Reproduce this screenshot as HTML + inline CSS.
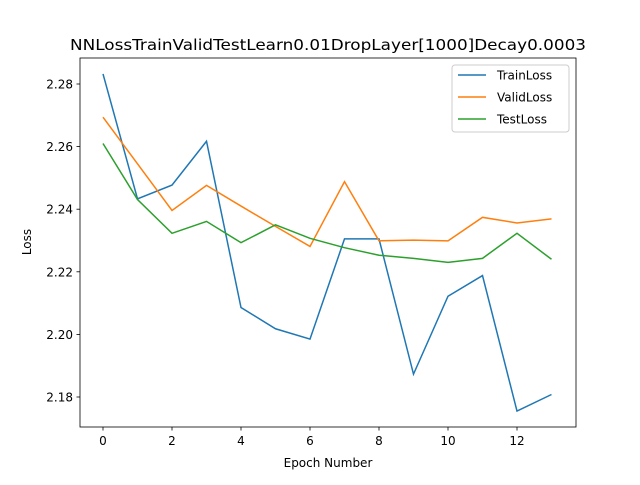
<!DOCTYPE html>
<html><head><meta charset="utf-8"><style>
body{margin:0;background:#fff;}
svg text{font-family:"DejaVu Sans","Liberation Sans",sans-serif;fill:#000;}
</style></head><body>
<svg id="chart" width="640" height="480" xmlns="http://www.w3.org/2000/svg">
<rect width="640" height="480" fill="#fff"/>
<text x="328" y="50" font-size="15.5" text-anchor="middle" textLength="516" lengthAdjust="spacingAndGlyphs">NNLossTrainValidTestLearn0.01DropLayer[1000]Decay0.0003</text>
<g id="plot"></g>
<rect x="80" y="58" width="496" height="369" fill="none" stroke="#000" stroke-width="0.8"/>
<text x="328" y="467" font-size="12" text-anchor="middle">Epoch Number</text>
<text x="31" y="242" font-size="12" text-anchor="middle" transform="rotate(-90 31 242)">Loss</text>
<g>
<rect x="452" y="65" width="117" height="67" fill="#fff" stroke="#ccc" rx="3"/>
</g>
</svg>
<script>
const epochs=[0,1,2,3,4,5,6,7,8,9,10,11,12,13];
const trainLoss=[2.2832,2.2433,2.2477,2.2617,2.2086,2.2018,2.1985,2.2305,2.2305,2.1873,2.2122,2.2188,2.1755,2.1808];
const validLoss=[2.2694,2.2545,2.2396,2.2476,2.2410,2.2345,2.2281,2.2488,2.2299,2.2301,2.2299,2.2374,2.2356,2.2369];
const testLoss=[2.2610,2.2431,2.2323,2.2361,2.2293,2.2350,2.2307,2.2277,2.2253,2.2243,2.2230,2.2243,2.2323,2.2240];
const xTicks=[0,2,4,6,8,10,12];
const yTicks=[2.18,2.20,2.22,2.24,2.26,2.28];
const seriesNames=["TrainLoss","ValidLoss","TestLoss"];
const colors=["#1f77b4","#ff7f0e","#2ca02c"];
const NS="http://www.w3.org/2000/svg";
const xs=v=>103+v*(517-103)/12;
const ys=v=>397-(v-2.18)*(397-84)/0.10;
const svg=document.getElementById('chart');
const g=document.getElementById('plot');
function mk(t,a,p){const e=document.createElementNS(NS,t);for(const k in a)e.setAttribute(k,a[k]);(p||svg).appendChild(e);return e;}
xTicks.forEach(t=>{
 const l=mk('line',{x1:xs(t),x2:xs(t),y1:427,y2:430.5,stroke:'#000','stroke-width':0.8});
 
 
 const tx=mk('text',{x:xs(t),y:445,'font-size':12,'text-anchor':'middle'});tx.textContent=t;
 
 
});
yTicks.forEach(t=>{
 const l=mk('line',{x1:76.5,x2:80,y1:ys(t),y2:ys(t),stroke:'#000','stroke-width':0.8});
 
 
 const tx=mk('text',{x:73,y:ys(t)+4.5,'font-size':12,'text-anchor':'end'});tx.textContent=t.toFixed(2);
 
 
});
[trainLoss,validLoss,testLoss].forEach((s,i)=>{
 const p=mk('polyline',{points:s.map((v,j)=>xs(epochs[j])+','+ys(v)).join(' '),fill:'none',stroke:colors[i],'stroke-width':1.5},g);
 
 
 const y=75+i*22;
 const l=mk('line',{x1:458,x2:486,y1:y,y2:y,stroke:colors[i],'stroke-width':1.5});
 
 
 const tx=mk('text',{x:497,y:y+4.5,'font-size':12});tx.textContent=seriesNames[i];
 
 
});
</script>
</body></html>
